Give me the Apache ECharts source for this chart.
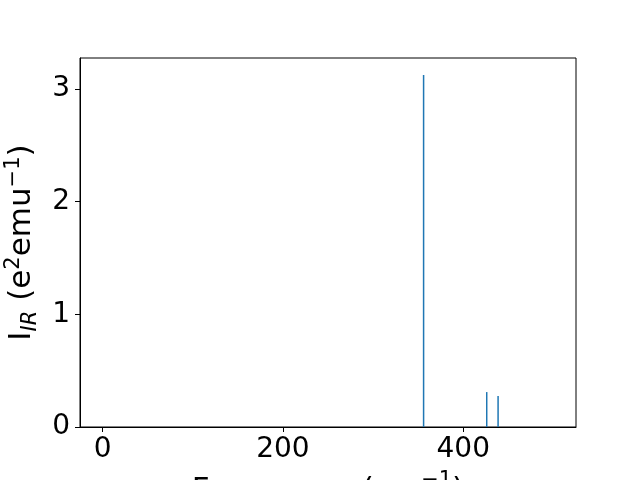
<!DOCTYPE html>
<html><head><meta charset="utf-8">
<script src="https://cdn.jsdelivr.net/npm/echarts@6/dist/echarts.min.js"></script>
<style>html,body{margin:0;padding:0;background:#fff}#c{width:640px;height:480px}</style>
</head><body><div id="c"></div>
<script>
const frequencies = [356, 426, 438.6];
const intensities = [3.124, 0.31, 0.275];
const xTicks = [0, 200, 400];
const yTicks = [0, 1, 2, 3];

const data = frequencies.map((f, i) => [f, intensities[i]]);
const font = 'DejaVu Sans';
const chart = echarts.init(document.getElementById('c'), null, {renderer: 'canvas'});
chart.setOption({
  animation: false,
  backgroundColor: '#fff',
  grid: {left: 80, right: 64, top: 58, bottom: 53, containLabel: false, outerBoundsMode: 'none',
    show: true, borderColor: '#000', borderWidth: 1, backgroundColor: 'transparent'},
  xAxis: {
    type: 'value', min: -25, max: 525,
    axisLine: {show: true, onZero: false, lineStyle: {color: '#000', width: 1}},
    axisTick: {show: true, length: 5, customValues: xTicks, lineStyle: {color: '#000'}},
    axisLabel: {customValues: xTicks, color: '#000', fontFamily: font, fontSize: 28, margin: 9},
    splitLine: {show: false},
    name: '{a|Frequency (cm}{sup|−1}{a|)}',
    nameLocation: 'middle', nameGap: 43,
    nameTextStyle: {rich: {
      a: {fontFamily: font, fontSize: 31, color: '#000', lineHeight: 36, verticalAlign: 'bottom'},
      sup: {fontFamily: font, fontSize: 21, color: '#000', lineHeight: 36, verticalAlign: 'top'}
    }}
  },
  yAxis: {
    type: 'value', min: 0, max: 3.275,
    axisLine: {show: true, onZero: false, lineStyle: {color: '#000', width: 1}},
    axisTick: {show: true, length: 5, customValues: yTicks, lineStyle: {color: '#000'}},
    axisLabel: {customValues: yTicks, color: '#000', fontFamily: font, fontSize: 28, margin: 10},
    splitLine: {show: false},
    name: '{a|I}{sub|IR}{a| (e}{sup|2}{a|emu}{sup|−1}{a|)}',
    nameLocation: 'middle', nameRotate: 90, nameGap: 33,
    nameTextStyle: {rich: {
      a: {fontFamily: font, fontSize: 31, color: '#000', lineHeight: 38, verticalAlign: 'middle'},
      sup: {fontFamily: font, fontSize: 21, color: '#000', lineHeight: 24, verticalAlign: 'top'},
      sub: {fontFamily: font, fontSize: 21, fontStyle: 'italic', color: '#000', lineHeight: 22, verticalAlign: 'bottom'}
    }}
  },
  series: [{
    type: 'custom',
    data: data,
    clip: true,
    renderItem: function (params, api) {
      const p0 = api.coord([api.value(0), 0]);
      const p1 = api.coord([api.value(0), api.value(1)]);
      return {type: 'line', shape: {x1: p0[0], y1: p0[1], x2: p1[0], y2: p1[1]},
        style: {stroke: '#1f77b4', lineWidth: 1.5}};
    }
  }]
});
</script></body></html>
